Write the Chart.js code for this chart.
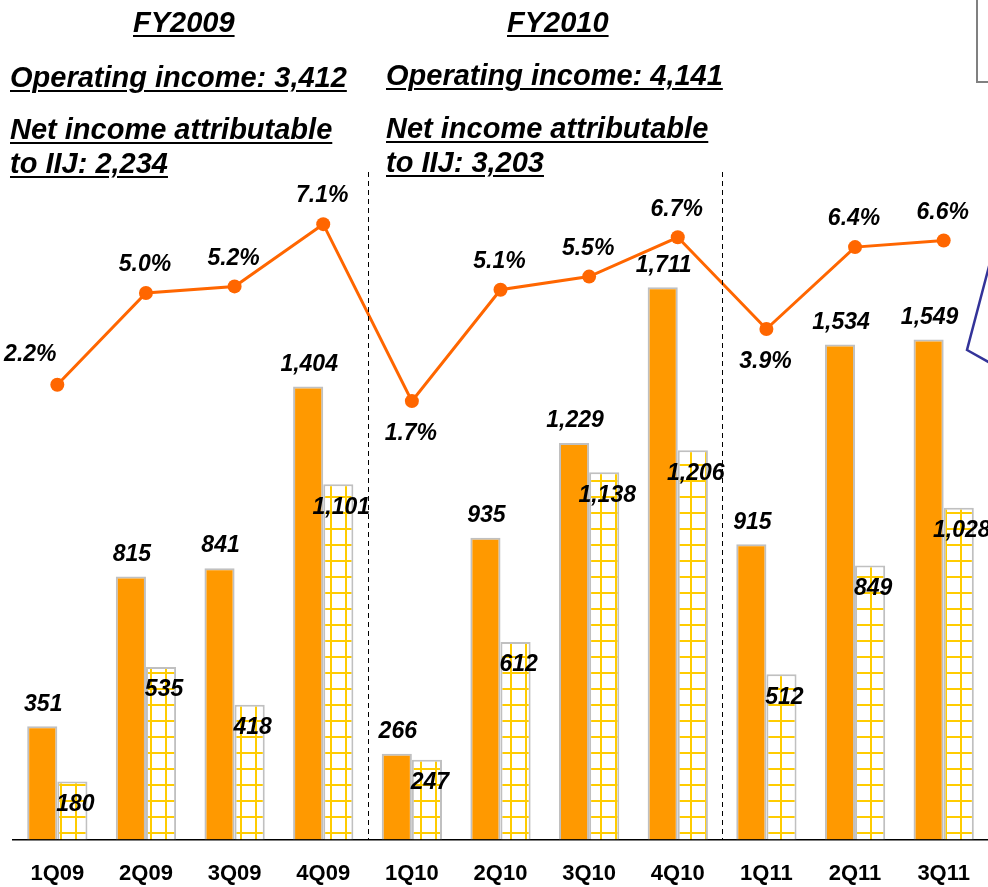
<!DOCTYPE html>
<html>
<head>
<meta charset="utf-8">
<script src="https://cdn.jsdelivr.net/npm/chart.js@4/dist/chart.umd.min.js"></script>
<style>
  html, body { margin: 0; padding: 0; background: #fff; }
  #wrap { position: relative; width: 988px; height: 887px; overflow: hidden; }
  canvas { position: absolute; left: 0; top: 0; }
  .hd {
    position: absolute; white-space: nowrap;
    font-family: "Liberation Sans", Arial, sans-serif;
    font-weight: bold; font-style: italic; font-size: 29px;
    color: #000; text-decoration: underline; text-decoration-thickness: 2px;
    text-underline-offset: 3px; line-height: 34px;
  }
</style>
</head>
<body>
<div id="wrap">
  <canvas id="incomeChart" width="988" height="900"></canvas>
  <div class="hd" style="left:133px; top:5px;">FY2009</div>
  <div class="hd" style="left:10px; top:60px;">Operating income: 3,412</div>
  <div class="hd" style="left:10px; top:112px;">Net income attributable</div>
  <div class="hd" style="left:10px; top:146px;">to IIJ: 2,234</div>
  <div class="hd" style="left:507px; top:5px;">FY2010</div>
  <div class="hd" style="left:386px; top:58px;">Operating income: 4,141</div>
  <div class="hd" style="left:386px; top:111px;">Net income attributable</div>
  <div class="hd" style="left:386px; top:145px;">to IIJ: 3,203</div>
</div>
<script>
const quarters = ['1Q09', '2Q09', '3Q09', '4Q09', '1Q10', '2Q10', '3Q10', '4Q10', '1Q11', '2Q11', '3Q11'];
const operatingIncome = [351, 815, 841, 1404, 266, 935, 1229, 1711, 915, 1534, 1549];
const netIncome = [180, 535, 418, 1101, 247, 612, 1138, 1206, 512, 849, 1028];
const operatingMargin = [2.2, 5.0, 5.2, 7.1, 1.7, 5.1, 5.5, 6.7, 3.9, 6.4, 6.6];

// where the % label goes relative to its point
const marginLabelPos = ['left', 'above', 'above', 'above', 'below', 'above', 'above', 'above', 'below', 'above', 'above'];

const labelFont = 'italic bold 23px "Liberation Sans", Arial, sans-serif';

// yellow grid fill for net income bars
function gridPattern() {
    const c = document.createElement('canvas');
    c.width = 15; c.height = 16;
    const g = c.getContext('2d');
    g.fillStyle = '#ffffff';
    g.fillRect(0, 0, 15, 16);
    g.fillStyle = '#ffcc00';
    g.fillRect(0, 0, 2, 16);
    g.fillRect(0, 0, 15, 2);
    return g.createPattern(c, 'repeat');
}

const valueLabels = {
    id: 'valueLabels',
    afterDatasetsDraw(chart) {
        const ctx = chart.ctx;
        ctx.save();
        ctx.font = labelFont;
        ctx.fillStyle = '#000';
        ctx.textAlign = 'center';
        ctx.textBaseline = 'middle';
        chart.data.datasets.forEach((ds, di) => {
            const meta = chart.getDatasetMeta(di);
            meta.data.forEach((el, i) => {
                const v = ds.data[i];
                if (ds.type === 'line') {
                    const pos = marginLabelPos[i];
                    let dx = -1, dy = -28;
                    if (pos === 'below') dy = 33;
                    if (pos === 'left') { dx = -27; dy = -30; }
                    ctx.fillText(v.toFixed(1) + '%', el.x + dx, el.y + dy);
                } else if (di === 1) {
                    ctx.fillText(v.toLocaleString('en-US'), el.x + 1, el.y - 22);
                } else {
                    ctx.fillText(v.toLocaleString('en-US'), el.x + 3, el.y + 23);
                }
            });
        });
        ctx.restore();
    }
};

const decorations = {
    id: 'decorations',
    afterDraw(chart) {
        const ctx = chart.ctx;
        const x = chart.scales.x;
        const bottom = chart.chartArea.bottom;
        ctx.save();
        // fiscal year separators
        ctx.strokeStyle = '#000';
        ctx.lineWidth = 1;
        ctx.setLineDash([5, 4]);
        [3, 7].forEach(i => {
            const px = Math.round((x.getPixelForValue(i) + x.getPixelForValue(i + 1)) / 2) + 0.5;
            ctx.beginPath();
            ctx.moveTo(px, 172);
            ctx.lineTo(px, bottom);
            ctx.stroke();
        });
        ctx.setLineDash([]);
        // bits of shapes cut off at the right edge
        ctx.strokeStyle = '#808080';
        ctx.lineWidth = 2;
        ctx.strokeRect(977, -5, 20, 87);
        ctx.strokeStyle = '#333399';
        ctx.lineWidth = 2.5;
        ctx.beginPath();
        ctx.moveTo(992, 255);
        ctx.lineTo(967, 350);
        ctx.lineTo(992, 364);
        ctx.stroke();
        ctx.restore();
    }
};

const chartCtx = document.getElementById('incomeChart').getContext('2d');

const incomeChart = new Chart(chartCtx, {
    data: {
        labels: quarters,
        datasets: [{
            type: 'line',
            label: 'Operating margin',
            data: operatingMargin,
            yAxisID: 'y2',
            borderColor: '#ff6600',
            backgroundColor: '#ff6600',
            borderWidth: 3,
            pointRadius: 7,
            pointBackgroundColor: '#ff6600',
            pointBorderWidth: 0,
            tension: 0,
            order: 0
        }, {
            type: 'bar',
            label: 'Operating income',
            data: operatingIncome,
            yAxisID: 'y',
            backgroundColor: '#ff9900',
            borderColor: '#c0c0c0',
            borderWidth: 2,
            barPercentage: 1,
            categoryPercentage: 0.68,
            order: 1
        }, {
            type: 'bar',
            label: 'Net income attributable to IIJ',
            data: netIncome,
            yAxisID: 'y',
            backgroundColor: gridPattern(),
            borderColor: '#c0c0c0',
            borderWidth: 2,
            barPercentage: 1,
            categoryPercentage: 0.68,
            order: 2
        }]
    },
    options: {
        responsive: false,
        animation: false,
        layout: {
            autoPadding: false,
            padding: { left: 13, right: 0, top: 194, bottom: 0 }
        },
        plugins: {
            legend: { display: false },
            tooltip: { enabled: false }
        },
        scales: {
            x: {
                grid: { display: false },
                border: { display: true, color: '#000', width: 1.5 },
                ticks: {
                    color: '#000',
                    padding: 13,
                    font: { family: '"Liberation Sans", Arial, sans-serif', size: 22, weight: 'bold' }
                }
            },
            y: {
                display: false,
                min: 0,
                max: 2000
            },
            y2: {
                display: false,
                min: -11.68,
                max: 8.02
            }
        }
    },
    plugins: [valueLabels, decorations]
});
</script>
</body>
</html>
